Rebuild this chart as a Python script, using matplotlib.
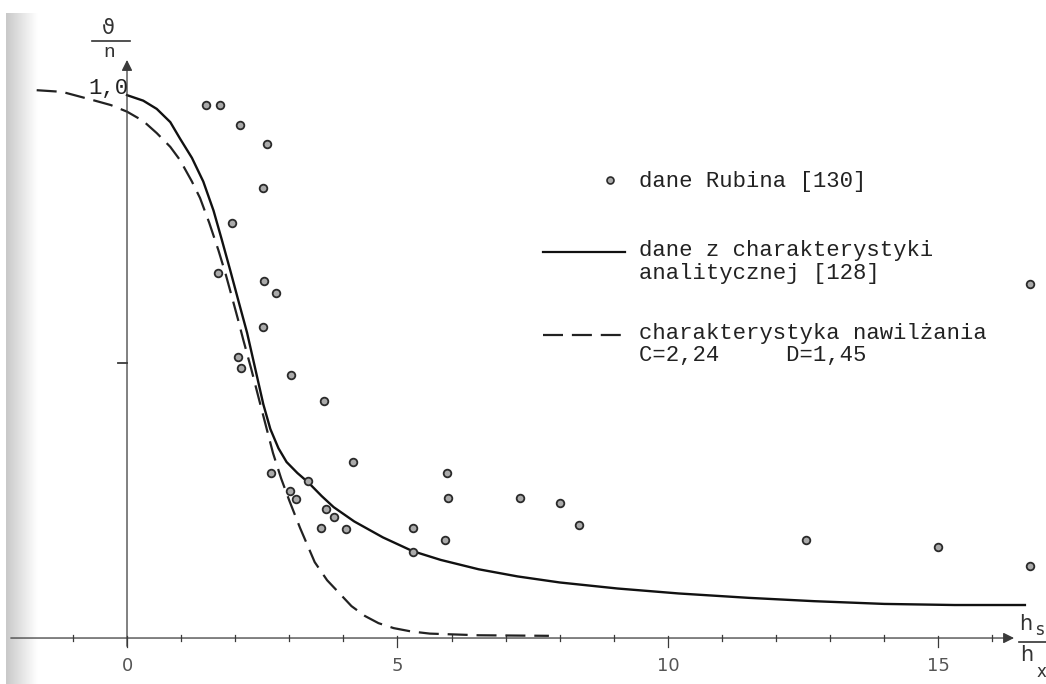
import numpy as np
import matplotlib.pyplot as plt

# punkty pomiarowe (dane Rubina)
rubin_x = [1.46, 1.72, 2.09, 2.59, 2.52, 1.94, 1.69, 2.54, 2.76, 2.52, 2.06, 2.11,
           3.04, 3.65, 4.17, 2.67, 3.35, 3.02, 3.13, 3.67, 3.82, 3.59, 4.04, 5.28,
           5.28, 5.91, 5.94, 5.87, 7.26, 8.0, 8.35, 12.55, 15.0, 16.7, 16.7]
rubin_y = [0.969, 0.969, 0.933, 0.898, 0.818, 0.755, 0.664, 0.649, 0.627, 0.565, 0.511, 0.491,
           0.478, 0.431, 0.320, 0.300, 0.285, 0.268, 0.252, 0.234, 0.220, 0.200, 0.198, 0.200,
           0.157, 0.300, 0.254, 0.178, 0.254, 0.245, 0.205, 0.178, 0.166, 0.131, 0.644]

# charakterystyka analityczna [128]
anal_x = [0, 0.3, 0.55, 0.8, 0.98, 1.2, 1.41, 1.6, 1.75, 1.91, 2.06, 2.22, 2.37, 2.52,
          2.65, 2.8, 2.95, 3.15, 3.35, 3.6, 3.82, 4.2, 4.73, 5.28, 5.8, 6.5, 7.22, 8.0,
          9.07, 10.2, 11.5, 12.7, 14.0, 15.3, 16.6]
anal_y = [0.987, 0.977, 0.962, 0.938, 0.908, 0.873, 0.83, 0.777, 0.725, 0.668, 0.613, 0.555,
          0.49, 0.425, 0.38, 0.345, 0.32, 0.3, 0.283, 0.258, 0.238, 0.212, 0.183, 0.158,
          0.142, 0.125, 0.112, 0.101, 0.09, 0.081, 0.073, 0.067, 0.062, 0.06, 0.06]

# charakterystyka nawilzania C=2,24 D=1,45
naw_x = [-1.67, -1.2, -0.63, -0.3, 0, 0.3, 0.55, 0.8, 0.98, 1.2, 1.35, 1.52, 1.69, 1.82,
         1.94, 2.05, 2.15, 2.3, 2.43, 2.57, 2.7, 2.85, 3.0, 3.2, 3.47, 3.7, 3.94, 4.15,
         4.4, 4.65, 4.93, 5.25, 5.6, 6.5, 7.8]
naw_y = [0.996, 0.993, 0.978, 0.969, 0.957, 0.94, 0.918, 0.893, 0.869, 0.83, 0.80, 0.755,
         0.705, 0.663, 0.62, 0.58, 0.542, 0.488, 0.438, 0.385, 0.336, 0.29, 0.25, 0.2,
         0.138, 0.105, 0.08, 0.058, 0.04, 0.027, 0.018, 0.012, 0.008, 0.005, 0.004]

x_labels = [0, 5, 10, 15]

fig = plt.figure(figsize=(10.46, 6.84), dpi=100)

# szary brzeg skanu po lewej
bg = fig.add_axes([6 / 1046, 0, 32 / 1046, 671 / 684])
grad = np.linspace(0.74, 1.0, 64) ** 0.8
bg.imshow(grad[np.newaxis, :], cmap='gray', vmin=0, vmax=1, aspect='auto')
bg.axis('off')

ax = fig.add_axes([0, 0, 1, 1])
ax.patch.set_alpha(0)
ax.set_xlim(-2.348, 16.99)
ax.set_ylim(-0.0836, 1.16)
ax.axis('off')

axc = '#3a3a3a'
# osie ze strzalkami
ax.annotate('', xy=(16.45, 0), xytext=(-2.2, 0),
            arrowprops=dict(arrowstyle='-|>', lw=0.9, color=axc, mutation_scale=16))
ax.annotate('', xy=(0, 1.056), xytext=(0, -0.02),
            arrowprops=dict(arrowstyle='-|>', lw=0.9, color=axc, mutation_scale=16))

for i in range(-1, 17):
    if i % 5 == 0:
        ax.plot([i, i], [0.004, -0.016], color=axc, lw=0.9)
    else:
        ax.plot([i, i], [0.006, -0.006], color=axc, lw=0.9)
ax.plot([-0.17, 0], [0.5, 0.5], color=axc, lw=1.3)

for v in x_labels:
    ax.text(v, -0.05, str(v), ha='center', va='center', fontsize=13, color='#555',
            family=['Liberation Sans Narrow', 'DejaVu Sans'])

mono = ['Liberation Mono', 'DejaVu Sans Mono']
ax.text(0.03, 1.0, '1,0', ha='right', va='center', fontsize=16, family=mono, color='#222')

# opis osi y
ax.text(-0.35, 1.11, 'ϑ', ha='center', va='center', fontsize=15, color='#333')
ax.plot([-0.65, 0.06], [1.085, 1.085], color='#333', lw=1.2)
ax.text(-0.33, 1.064, 'n', ha='center', va='center', fontsize=14, family=mono, color='#333')

# opis osi x
ax.text(16.62, 0.026, 'h', ha='center', va='center', fontsize=15, color='#333')
ax.text(16.87, 0.014, 's', ha='center', va='center', fontsize=12, color='#333')
ax.plot([16.5, 17.0], [-0.007, -0.007], color='#333', lw=1.2)
ax.text(16.64, -0.03, 'h', ha='center', va='center', fontsize=15, color='#333')
ax.text(16.9, -0.062, 'x', ha='center', va='center', fontsize=12, color='#333')

# krzywe
ax.plot(anal_x, anal_y, color='#111', lw=1.7, solid_joinstyle='round')
ax.plot(naw_x, naw_y, color='#222', lw=1.6, dashes=(9, 4))
ax.plot(rubin_x, rubin_y, ls='none', marker='o', ms=5.5, mfc='#aaa', mec='#2a2a2a', mew=1.3)

# legenda
ax.plot([8.93], [0.833], ls='none', marker='o', ms=5, mfc='#aaa', mec='#2a2a2a', mew=1.2)
ax.text(9.46, 0.83, 'dane Rubina [130]', va='center', fontsize=16, family=mono, color='#222')
ax.plot([7.69, 9.2], [0.702, 0.702], color='#111', lw=1.6)
ax.text(9.46, 0.704, 'dane z charakterystyki', va='center', fontsize=16, family=mono, color='#222')
ax.text(9.46, 0.662, 'analitycznej [128]', va='center', fontsize=16, family=mono, color='#222')
ax.plot([7.69, 9.2], [0.551, 0.551], color='#222', lw=1.6, dashes=(9, 4))
ax.text(9.46, 0.553, 'charakterystyka nawilżania', va='center', fontsize=16, family=mono, color='#222')
ax.text(9.46, 0.513, 'C=2,24     D=1,45', va='center', fontsize=16, family=mono, color='#222')

fig.savefig('out.png', dpi=100)
